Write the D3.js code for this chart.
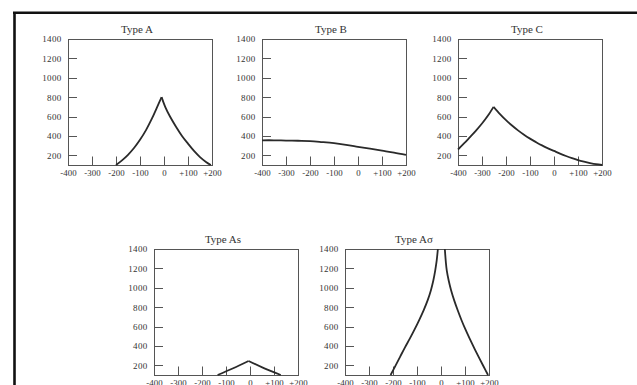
<!DOCTYPE html>
<html><head><meta charset="utf-8">
<script src="https://cdn.jsdelivr.net/npm/d3@7"></script>
<style>
html,body{margin:0;padding:0;background:#fff;}
svg{display:block;}
text{font-family:"Liberation Serif","DejaVu Serif",serif;fill:#333;}
</style></head>
<body>
<svg id="chart" width="637" height="385"></svg>
<script>
// ---- data ----
const titles = ["Type A", "Type B", "Type C", "Type As", "Type A\u03c3"];
const xTicks = [-400, -300, -200, -100, 0, 100, 200];
const xTickLabels = ["-400", "-300", "-200", "-100", "0", "+100", "+200"];
const yTicks = [200, 400, 600, 800, 1000, 1200, 1400];
const yTickLabels = ["200", "400", "600", "800", "1000", "1200", "1400"];

// each curve is split at its peak into a rising and a falling branch
const typeARise = [[-200,100],[-175,148],[-150,205],[-125,275],[-100,360],[-75,460],[-50,580],[-30,690],[-10,800]];
const typeAFall = [[-10,800],[5,700],[25,600],[50,495],[75,400],[100,320],[125,245],[150,182],[175,132],[195,100]];
const typeB = [[-400,355],[-350,355],[-300,352],[-250,350],[-200,347],[-150,337],[-100,325],[-50,308],
               [0,288],[50,268],[100,248],[150,228],[200,205]];
const typeCRise = [[-400,260],[-375,322],[-350,388],[-325,455],[-300,528],[-275,610],[-252,700]];
const typeCFall = [[-252,700],[-225,625],[-200,562],[-175,507],[-150,457],[-125,412],[-100,372],[-75,336],
                   [-50,302],[-25,272],[0,245],[25,218],[50,193],[75,170],[100,150],[125,134],[150,120],[175,108],[200,100]];
const typeAsRise = [[-135,100],[-70,170],[-6,245]];
const typeAsFall = [[-6,245],[60,168],[128,100]];
const typeAsigmaRise = [[-210,100],[-190,195],[-170,290],[-150,385],[-130,475],[-110,570],[-90,672],[-72,770],
                        [-55,875],[-42,975],[-32,1075],[-24,1180],[-18,1280],[-13,1400]];
const typeAsigmaFall = [[16,1400],[20,1270],[24,1180],[32,1075],[42,975],[55,870],[70,765],[86,662],[100,580],
                        [120,472],[140,370],[160,272],[178,185],[196,100]];

const seriesByPanel = [[typeARise, typeAFall], [typeB], [typeCRise, typeCFall],
                       [typeAsRise, typeAsFall], [typeAsigmaRise, typeAsigmaFall]];

// ---- layout ----
const panelPos = [[68,39],[262,39],[458,39],[154,249],[345,249]];
const PW = 144, PH = 126;

const svg = d3.select("#chart");
svg.append("rect").attr("width",637).attr("height",385).attr("fill","#fff");

// outer frame (top and left visible)
svg.append("line").attr("x1",13).attr("x2",637).attr("y1",12.8).attr("y2",12.8)
  .attr("stroke","#111").attr("stroke-width",2.6);
svg.append("line").attr("x1",14.5).attr("x2",14.5).attr("y1",12).attr("y2",385)
  .attr("stroke","#111").attr("stroke-width",2.6);

titles.forEach((t, i) => {
  const [px, py] = panelPos[i];
  const g = svg.append("g").attr("transform", `translate(${px},${py})`);
  const x = d3.scaleLinear().domain([-400, 200]).range([0, PW]);
  const y = d3.scaleLinear().domain([100, 1400]).range([PH, 0]);

  // box
  g.append("rect").attr("x",0.5).attr("y",0.5).attr("width",PW).attr("height",PH)
    .attr("fill","none").attr("stroke","#555").attr("stroke-width",1);

  // y axis: inward ticks, labels left
  const yAxis = d3.axisLeft(y).tickValues(yTicks).tickSize(0).tickPadding(7)
    .tickFormat((d, k) => yTickLabels[k]);
  const ya = g.append("g").attr("transform","translate(0.5,0)").call(yAxis);
  ya.select(".domain").remove();
  ya.selectAll("text").attr("font-size", 9).attr("letter-spacing", 0.3)
    .style("font-family", '"Liberation Serif",serif').attr("fill","#2b2b2b");
  g.selectAll(".ytick").data(yTicks.filter(v => v < 1400)).join("line")
    .attr("x1",0.5).attr("x2",9).attr("y1",d=>Math.round(y(d))+0.5).attr("y2",d=>Math.round(y(d))+0.5)
    .attr("stroke","#555").attr("stroke-width",1);

  // x axis: upward ticks, labels below
  const xAxis = d3.axisBottom(x).tickValues(xTicks).tickSize(0).tickPadding(4)
    .tickFormat((d, k) => xTickLabels[k]);
  const xa = g.append("g").attr("transform",`translate(0,${PH+0.5})`).call(xAxis);
  xa.select(".domain").remove();
  xa.selectAll("text").attr("font-size", 8.8).attr("letter-spacing", 0.1)
    .style("font-family", '"Liberation Serif",serif').attr("fill","#2b2b2b");
  g.selectAll(".xtick").data(xTicks.filter(v => v > -400 && v < 200)).join("line")
    .attr("x1",d=>Math.round(x(d))+0.5).attr("x2",d=>Math.round(x(d))+0.5).attr("y1",PH).attr("y2",PH-8.5)
    .attr("stroke","#555").attr("stroke-width",1);

  // title
  g.append("text").attr("x", PW/2 - 3).attr("y", -6).attr("text-anchor","middle")
    .attr("font-size", 11).attr("fill","#222").text(t);

  // curves
  const line = d3.line().x(d => x(d[0])).y(d => y(d[1])).curve(d3.curveCatmullRom.alpha(0.5));
  seriesByPanel[i].forEach(s => {
    g.append("path").datum(s).attr("d", line).attr("fill","none")
      .attr("stroke","#2a2a2a").attr("stroke-width",1.8).attr("stroke-linejoin","round");
  });
});
</script>
</body></html>
